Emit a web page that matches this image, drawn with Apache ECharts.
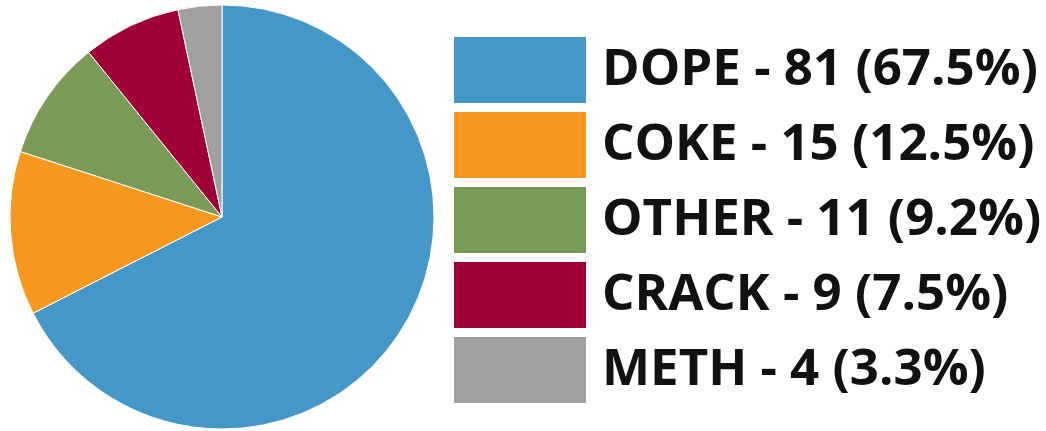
<!DOCTYPE html>
<html>
<head>
<meta charset="utf-8">
<title>Drug pie</title>
<script src="https://cdn.jsdelivr.net/npm/echarts@6/dist/echarts.min.js"></script>
</head>
<body style="margin:0;background:#fff;">
<div id="main" style="width:1046px;height:431px;"></div>
<script>
// categories and counts
var names = ['DOPE', 'COKE', 'OTHER', 'CRACK', 'METH'];
var counts = [81, 15, 11, 9, 4];
var colors = ['#4597c8', '#f8981f', '#7b9a58', '#9f0038', '#a0a0a0'];

var total = 0;
for (var i = 0; i < counts.length; i++) total += counts[i];

var pieData = [];
for (var i = 0; i < names.length; i++) {
    pieData.push({ name: names[i], value: counts[i], itemStyle: { color: colors[i] } });
}

var chart = echarts.init(document.getElementById('main'));
chart.setOption({
    animation: false,
    legend: {
        orient: 'vertical',
        left: 452,
        top: 35,
        padding: 0,
        itemWidth: 134,
        itemHeight: 68,
        itemGap: 5,
        icon: 'rect',
        data: names,
        formatter: function (name) {
            var idx = names.indexOf(name);
            var pct = (counts[idx] / total * 100).toFixed(1);
            return name + ' - ' + counts[idx] + ' (' + pct + '%)';
        },
        textStyle: {
            fontFamily: 'Open Sans',
            fontWeight: 'bold',
            fontSize: 51,
            lineHeight: 50,
            color: '#111',
            padding: [8, 0, 0, 10]
        }
    },
    series: [{
        type: 'pie',
        center: [222, 217],
        radius: 212,
        startAngle: 90,
        clockwise: true,
        label: { show: false },
        labelLine: { show: false },
        itemStyle: { borderColor: '#fff', borderWidth: 1 },
        data: pieData
    }]
});
</script>
</body>
</html>
